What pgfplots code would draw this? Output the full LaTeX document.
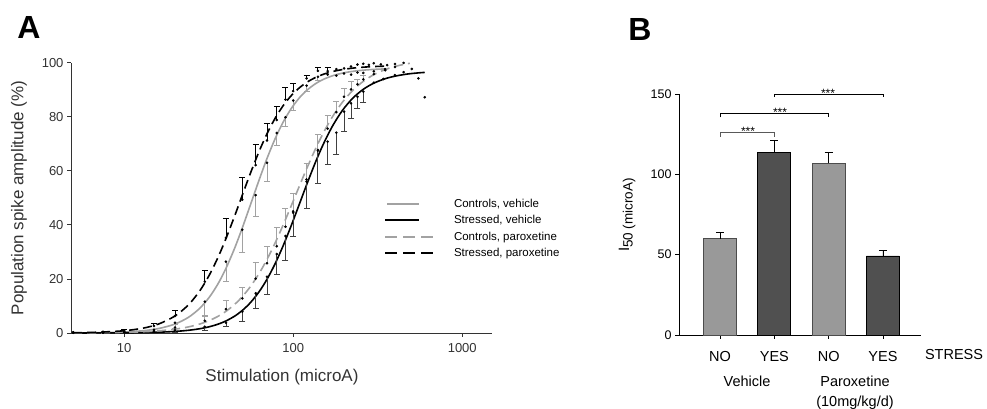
\documentclass[border=0pt]{standalone}
\usepackage{fontspec}
\setmainfont{Liberation Sans}
\usepackage{pgfplots}
\usepackage{pgfplotstable}
\pgfplotsset{compat=1.18}
\definecolor{cgray}{HTML}{A2A2A2}
\definecolor{lbar}{HTML}{999999}
\definecolor{dbar}{HTML}{505050}
\definecolor{axc}{HTML}{333333}

% Stressed, paroxetine (error bars up)
\pgfplotstableread{
x y e
10 0.9 0.4
15 2.6 0.8
20 6.3 2.2
30 19.0 4.3
40 35.2 7.3
50 49.3 8.2
60 62.1 7.5
70 71.2 6.4
80 78.8 4.9
90 86.4 4.3
100 89.5 2.9
120 94.2 1.2
140 97.0 1.1
160 96.9 1.2
}\SPe
\pgfplotstableread{
x y
5 0.3
7.5 0.5
180 97.6
200 97.9
220 98.6
240 99.3
260 99.6
280 99.2
300 99.8
330 99.4
360 99.1
400 99.5
}\SPn
% Controls, vehicle (error bars down)
\pgfplotstableread{
x y e
20 3.8 2.0
30 11.6 5.6
40 26.4 7.4
50 38.2 8.3
60 51.0 8.0
70 63.0 7.0
80 74.0 4.5
90 79.8 3.5
100 86.0 3.6
120 91.5 2.0
140 94.8 1.3
}\CVe
\pgfplotstableread{
x y
5 0.2
7.5 0.3
10 0.6
15 1.2
160 95.6
180 95.2
200 96.0
220 95.6
240 96.4
260 96.2
300 96.8
350 97.2
}\CVn
% Stressed, vehicle (error bars down)
\pgfplotstableread{
x y e
20 1.0 0.6
30 2.3 1.4
40 3.8 1.5
50 7.9 3.7
60 14.7 5.6
70 20.8 6.7
80 29.2 7.7
90 35.9 8.9
100 44.5 8.6
120 56.0 9.9
140 67.7 12.3
160 70.8 8.6
180 74.1 8.2
200 81.9 7.4
220 85.0 5.6
240 87.4 4.3
260 89.3 4.1
}\SVe
\pgfplotstableread{
x y
5 0.1
7.5 0.1
10 0.3
15 0.5
300 92.6
342 94.0
400 95.4
450 96.5
503 97.7
551 94.2
600 87.2
}\SVn
% Controls, paroxetine (error bars up)
\pgfplotstableread{
x y e
20 2.0 1.0
30 4.5 2.0
40 8.8 3.4
50 12.8 4.1
60 20.1 5.9
70 25.8 6.1
80 32.1 6.9
90 39.3 6.8
100 45.0 6.8
120 56.8 6.0
140 67.5 5.8
160 75.6 5.0
180 81.7 3.9
200 87.4 3.1
220 90.1 2.9
240 92.0 2.0
260 93.8 1.5
}\CPe
\pgfplotstableread{
x y
5 0.2
7.5 0.2
10 0.4
15 0.8
300 95.8
350 97.6
400 98.4
450 99.9
}\CPn

\begin{document}
\begin{tikzpicture}[x=1pt,y=1pt]
\path[use as bounding box] (0,0) rectangle (987,409);

\begin{axis}[
  at={(71pt,76pt)}, anchor=south west, scale only axis,
  width=421pt, height=270.3pt,
  xmode=log, xmin=4.85, xmax=1500, ymin=0, ymax=100,
  axis x line*=bottom, axis y line*=left,
  axis line style={axc, line width=0.8pt},
  xtick={10,100,1000}, xticklabels={10,100,1000}, xminorticks=false,
  ytick={0,20,40,60,80,100},
  tick align=outside, major tick length=4pt,
  tick style={axc, line width=0.8pt},
  tick label style={font=\fontsize{13}{15}\selectfont, text=axc},
  /pgf/number format/assume math mode=true,
  xticklabel style={yshift=-3pt},
  clip=false,
  legend style={at={(axis description cs:0.7435,0.4957)}, anchor=north west,
    draw=none, fill=none, inner sep=0pt, outer sep=0pt,
    font=\fontsize{11.5}{13}\selectfont, row sep=5.3pt,
    nodes={inner sep=0pt, text height=8.5pt, text depth=2.5pt, anchor=base west}},
  legend cell align=left,
]
% fitted curves
\addplot[cgray, line width=1.6pt, smooth, forget plot] coordinates {
(5,0.041) (7,0.119) (10,0.373) (13,0.857) (16,1.65) (20,3.32) (24,5.79) (28,9.13)
(32,13.34) (36,18.31) (40,23.87) (45,31.30) (50,38.87) (56,47.62) (63,56.77) (70,64.56)
(78,71.71) (87,77.87) (97,82.87) (108,86.77) (120,89.71) (135,92.16) (150,93.76)
(170,95.12) (195,96.13) (225,96.80) (260,97.24) (300,97.52) (350,97.71)};
\addplot[black, line width=1.6pt, smooth, forget plot] coordinates {
(5,0.009) (7,0.025) (10,0.073) (13,0.160) (16,0.298) (20,0.579) (24,0.997) (28,1.575)
(32,2.33) (36,3.285) (40,4.45) (45,6.22) (50,8.33) (56,11.31) (63,15.35) (70,19.87)
(78,25.49) (87,32.10) (97,39.46) (108,47.16) (120,54.79) (135,62.95) (150,69.56)
(170,76.32) (195,82.24) (225,86.85) (260,90.17) (300,92.44) (350,94.08) (400,95.02)
(450,95.60) (490,95.92) (550,96.23) (600,96.41)};
\addplot[cgray, line width=1.6pt, dash pattern=on 9pt off 5pt, smooth, forget plot] coordinates {
(5,0.039) (7,0.093) (10,0.235) (13,0.465) (16,0.795) (20,1.41) (24,2.25) (28,3.32)
(32,4.64) (36,6.20) (40,8.00) (45,10.56) (50,13.45) (56,17.28) (63,22.12) (70,27.22)
(78,33.17) (87,39.79) (97,46.80) (108,53.87) (120,60.70) (135,67.90) (150,73.75)
(170,79.82) (195,85.28) (225,89.74) (260,93.12) (300,95.58) (350,97.45) (400,98.61)
(450,99.35) (490,99.78)};
\addplot[black, line width=1.6pt, dash pattern=on 9pt off 5pt, smooth, forget plot] coordinates {
(5,0.105) (7,0.288) (10,0.834) (13,1.814) (16,3.33) (20,6.30) (24,10.41) (28,15.57)
(32,21.57) (36,28.11) (40,34.88) (45,43.21) (50,51.00) (56,59.29) (63,67.32) (70,73.71)
(78,79.33) (87,84.00) (97,87.70) (108,90.54) (120,92.69) (135,94.48) (150,95.66)
(170,96.69) (195,97.45) (225,97.99) (260,98.34) (300,98.57) (350,98.73)};

% data with error bars
\addplot[only marks, mark=*, mark size=1.1pt, black, forget plot,
  error bars/.cd, y dir=minus, y explicit,
  error bar style={cgray, line width=0.8pt},
  error mark options={rotate=90, mark size=3pt, cgray, line width=0.8pt}]
  table[x=x, y=y, y error=e] {\CVe};
\addplot[only marks, mark=*, mark size=1.1pt, black, forget plot,
  error bars/.cd, y dir=plus, y explicit,
  error bar style={cgray, line width=0.8pt},
  error mark options={rotate=90, mark size=3pt, cgray, line width=0.8pt}]
  table[x=x, y=y, y error=e] {\CPe};
\addplot[only marks, mark=*, mark size=1.1pt, black, forget plot,
  error bars/.cd, y dir=minus, y explicit,
  error bar style={black!75, line width=0.8pt},
  error mark options={rotate=90, mark size=3pt, black!75, line width=0.8pt}]
  table[x=x, y=y, y error=e] {\SVe};
\addplot[only marks, mark=*, mark size=1.1pt, black, forget plot,
  error bars/.cd, y dir=plus, y explicit,
  error bar style={black, line width=0.8pt},
  error mark options={rotate=90, mark size=3pt, black, line width=0.8pt}]
  table[x=x, y=y, y error=e] {\SPe};
\addplot[only marks, mark=*, mark size=1.1pt, black, forget plot] table[x=x,y=y] {\CVn};
\addplot[only marks, mark=*, mark size=1.1pt, black, forget plot] table[x=x,y=y] {\CPn};
\addplot[only marks, mark=*, mark size=1.1pt, black, forget plot] table[x=x,y=y] {\SVn};
\addplot[only marks, mark=*, mark size=1.1pt, black, forget plot] table[x=x,y=y] {\SPn};

% legend
\addlegendimage{legend image code/.code={\draw[cgray, line width=2pt] (0pt,3.5pt) -- (32pt,3.5pt); \path[draw=none, fill=none] (0pt,0pt) -- (67pt,0pt);}}
\addlegendentry{Controls, vehicle}
\addlegendimage{legend image code/.code={\draw[black, line width=2pt] (-2pt,3.5pt) -- (32pt,3.5pt); \path[draw=none, fill=none] (0pt,0pt) -- (67pt,0pt);}}
\addlegendentry{Stressed, vehicle}
\addlegendimage{legend image code/.code={\draw[cgray, line width=2pt, dash pattern=on 12pt off 6pt] (-2pt,3.5pt) -- (46pt,3.5pt); \path[draw=none, fill=none] (0pt,0pt) -- (67pt,0pt);}}
\addlegendentry{Controls, paroxetine}
\addlegendimage{legend image code/.code={\draw[black, line width=2pt, dash pattern=on 12pt off 6pt] (-2pt,3.5pt) -- (46pt,3.5pt); \path[draw=none, fill=none] (0pt,0pt) -- (67pt,0pt);}}
\addlegendentry{Stressed, paroxetine}
\end{axis}

\begin{axis}[
  at={(679pt,74pt)}, anchor=south west, scale only axis,
  width=242pt, height=241pt,
  xmin=-0.755, xmax=3.70, ymin=0, ymax=150,
  axis x line*=bottom, axis y line*=left,
  axis line style={black, line width=0.8pt},
  xtick={0,1,2,3}, xticklabels={NO,YES,NO,YES},
  ytick={0,50,100,150},
  tick align=outside, major tick length=4pt,
  tick style={black, line width=0.8pt},
  tick label style={font=\fontsize{12.5}{14}\selectfont},
  xticklabel style={font=\fontsize{14.5}{16}\selectfont, yshift=-9pt},
  /pgf/number format/assume math mode=true,
  clip=false,
]
\addplot[ybar, bar width=33pt, bar shift=0pt, fill=lbar, draw=black!70, line width=0.8pt,
  error bars/.cd, y dir=plus, y explicit,
  error bar style={black, line width=0.8pt},
  error mark options={rotate=90, mark size=4pt, black, line width=0.8pt}]
  coordinates {(0,60.0) +- (0,3.7) (2,106.9) +- (0,6.6)};
\addplot[ybar, bar width=33pt, bar shift=0pt, fill=dbar, draw=black, line width=0.8pt,
  error bars/.cd, y dir=plus, y explicit,
  error bar style={black, line width=0.8pt},
  error mark options={rotate=90, mark size=4pt, black, line width=0.8pt}]
  coordinates {(1,113.7) +- (0,7.3) (3,49.2) +- (0,3.5)};
% significance brackets
\draw[black!65, line width=0.8pt] (axis cs:0,123.3) -- (axis cs:0,126.2) -- (axis cs:1,126.2) -- (axis cs:1,123.3);
\draw[black, line width=0.8pt] (axis cs:0,135.4) -- (axis cs:0,137.7) -- (axis cs:2,137.7) -- (axis cs:2,135.4);
\draw[black, line width=0.8pt] (axis cs:1,148.0) -- (axis cs:1,149.6) -- (axis cs:3,149.6) -- (axis cs:3,148.0);
\end{axis}

% stars
\node[font=\fontsize{12}{12}\selectfont, anchor=base, inner sep=0pt] at (748,273.5) {***};
\node[font=\fontsize{12}{12}\selectfont, anchor=base, inner sep=0pt] at (780,292.5) {***};
\node[font=\fontsize{12}{12}\selectfont, anchor=base, inner sep=0pt] at (828,311) {***};

% panel letters and labels
\node[font=\fontsize{32}{32}\selectfont\bfseries] at (29,381.5) {A};
\node[font=\fontsize{32}{32}\selectfont\bfseries] at (640,380) {B};
\node[rotate=90, font=\fontsize{17}{19}\selectfont, text=axc] at (19,211) {Population spike amplitude (\%)};
\node[font=\fontsize{17}{19}\selectfont, text=axc] at (282,32) {Stimulation (microA)};
\node[rotate=90, font=\fontsize{15}{17}\selectfont] at (627,194) {I\raisebox{-3.5pt}{\fontsize{13.5}{15}\selectfont 50 (microA)}};
\node[font=\fontsize{14.5}{16}\selectfont] at (954,54) {STRESS};
\node[font=\fontsize{14.5}{16}\selectfont] at (747,27.3) {Vehicle};
\node[font=\fontsize{14.5}{16}\selectfont] at (855,28) {Paroxetine};
\node[font=\fontsize{14.5}{16}\selectfont] at (855,6.7) {(10mg/kg/d)};
\end{tikzpicture}
\end{document}
